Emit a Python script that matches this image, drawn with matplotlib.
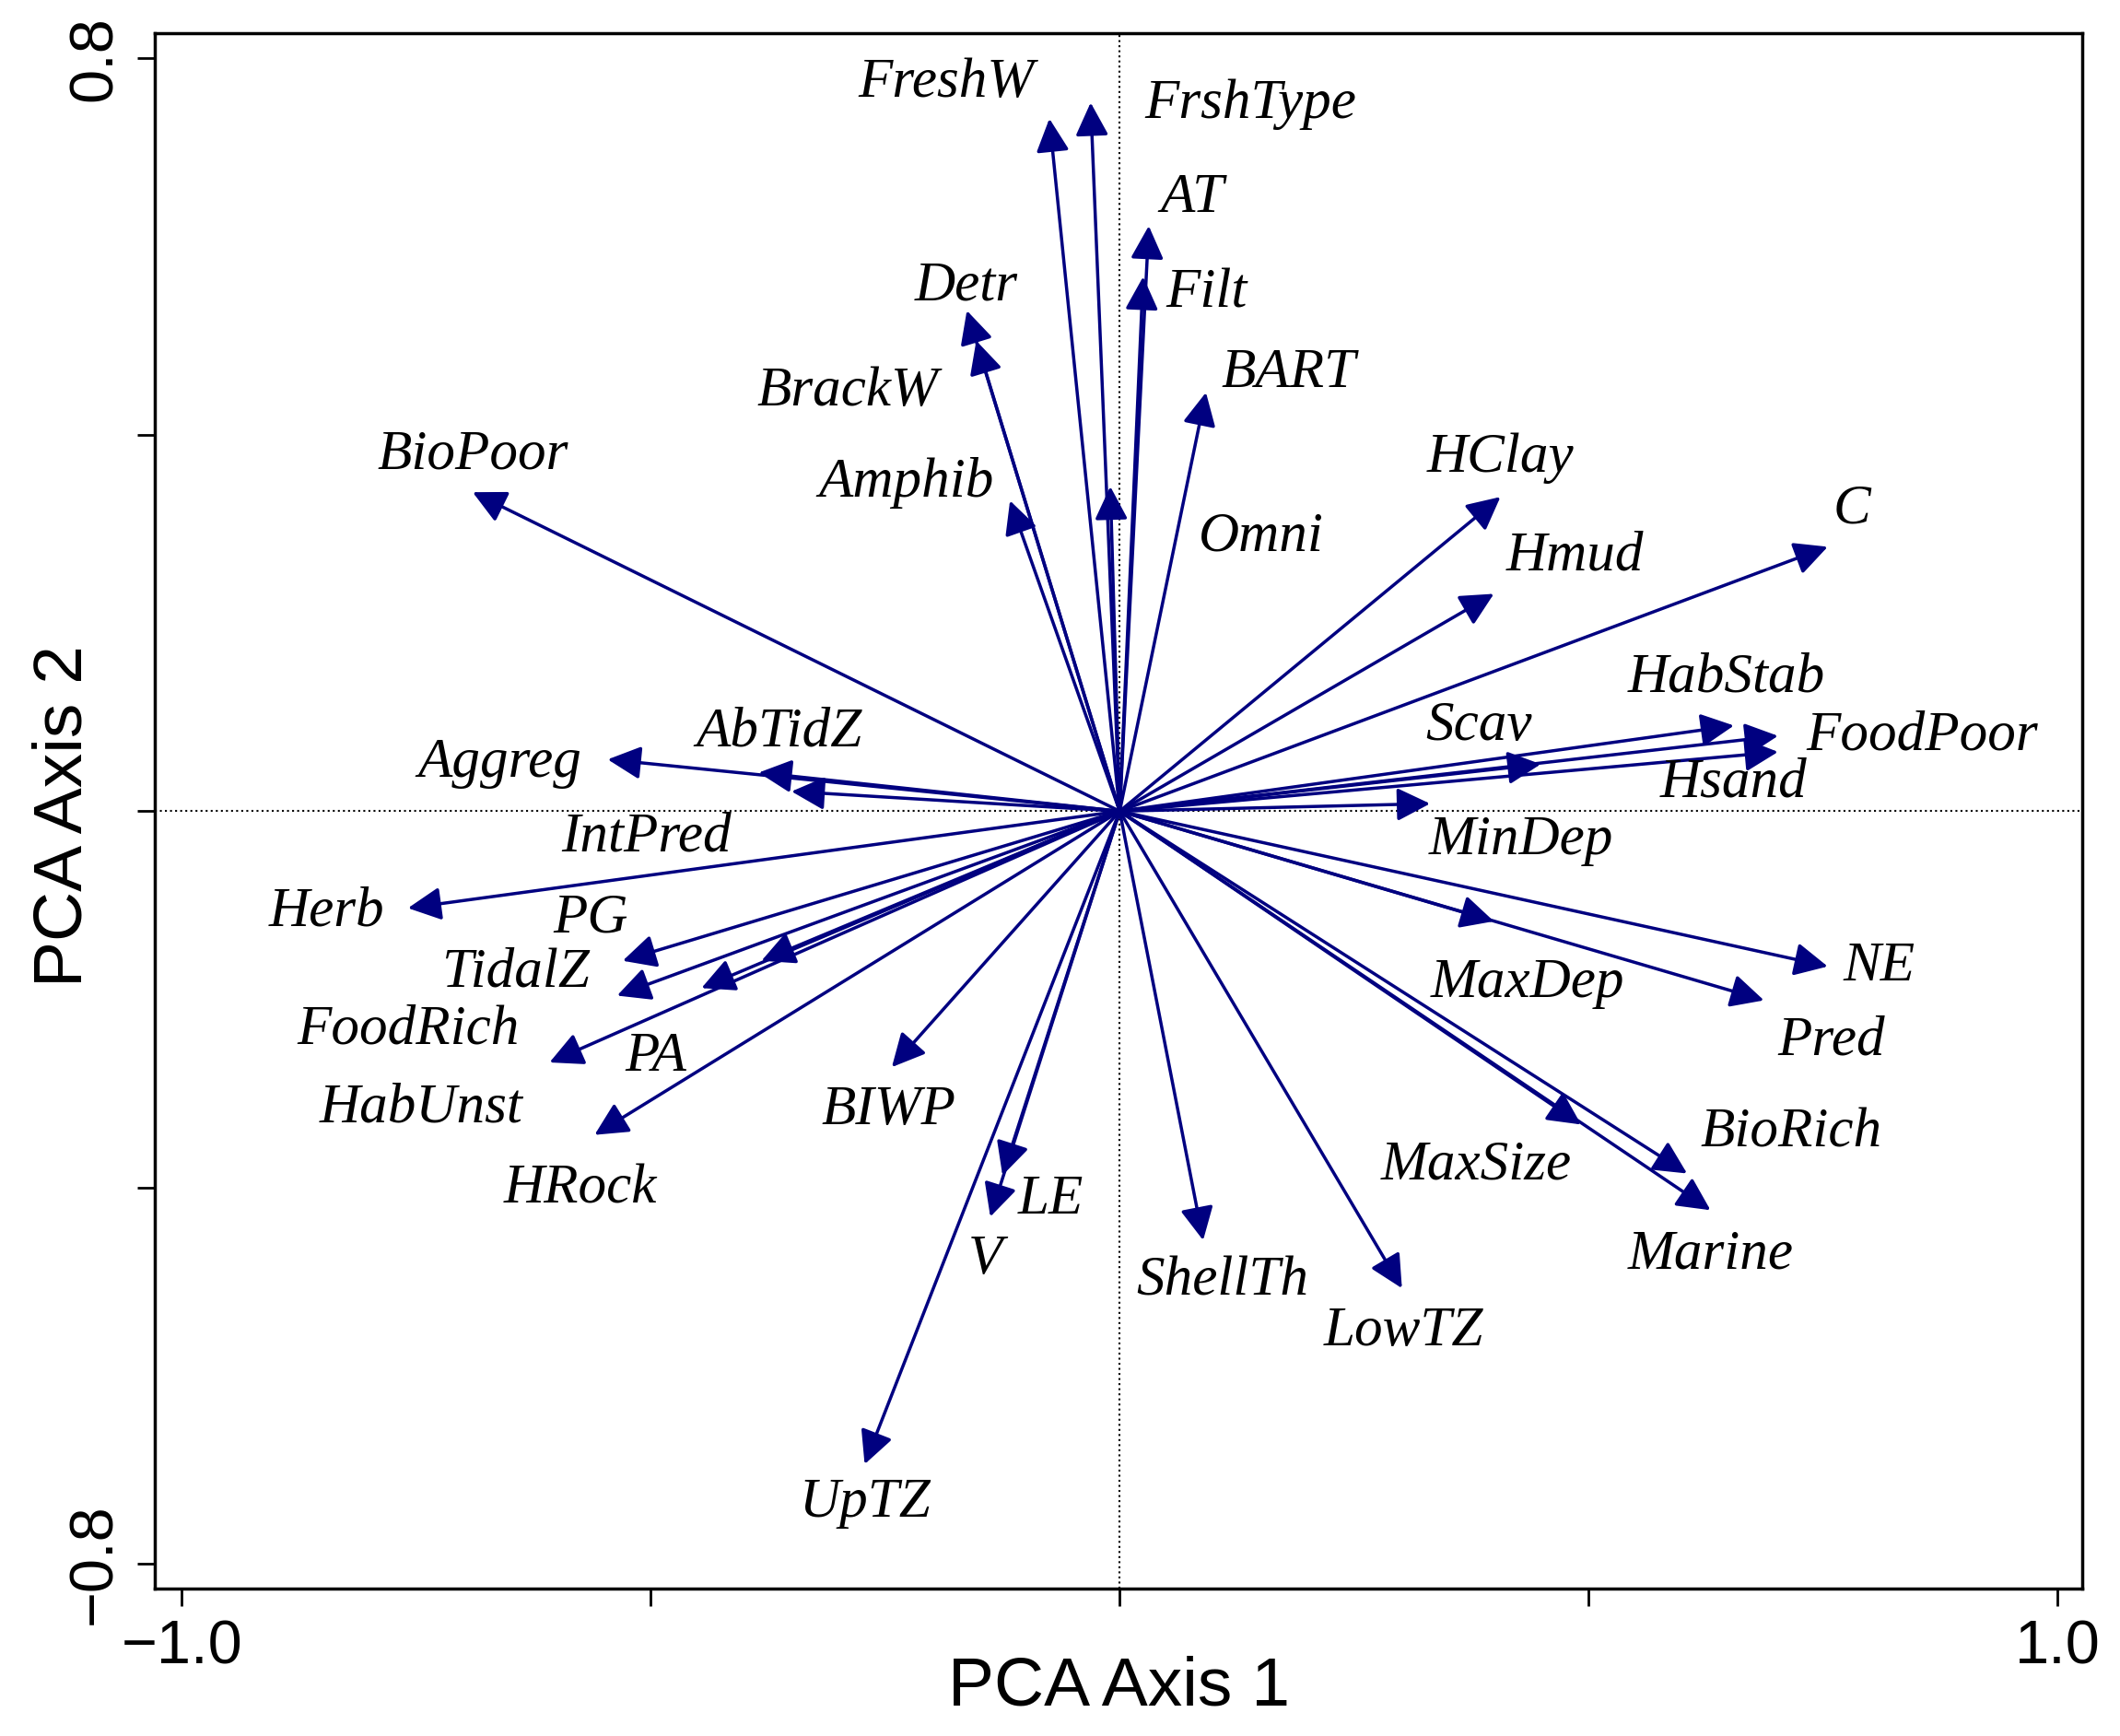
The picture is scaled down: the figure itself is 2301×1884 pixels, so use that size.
import numpy as np
import matplotlib
matplotlib.use("Agg")
import matplotlib.pyplot as plt

# variable names, arrow tips (PC1, PC2) and label positions
names = ["FreshW", "FrshType", "AT", "Filt", "Detr", "BrackW", "BART", "Amphib", "Omni",
         "BioPoor", "HClay", "Hmud", "C", "HabStab", "FoodPoor", "Hsand", "Scav", "MinDep",
         "AbTidZ", "Aggreg", "IntPred", "Herb", "PG", "TidalZ", "FoodRich", "PA", "HabUnst",
         "HRock", "BIWP", "LE", "V", "UpTZ", "ShellTh", "LowTZ", "MaxSize", "BioRich",
         "Marine", "MaxDep", "Pred", "NE"]
pc1 = [-0.075, -0.031, 0.031, 0.025, -0.163, -0.153, 0.092, -0.117, -0.010,
       -0.690, 0.406, 0.399, 0.755, 0.655, 0.702, 0.702, 0.449, 0.331,
       -0.385, -0.546, -0.350, -0.759, -0.530, -0.536, -0.608, -0.382, -0.446,
       -0.560, -0.243, -0.125, -0.138, -0.272, 0.089, 0.301, 0.492, 0.605,
       0.630, 0.399, 0.687, 0.755]
pc2 = [0.736, 0.753, 0.622, 0.568, 0.532, 0.500, 0.445, 0.330, 0.345,
       0.339, 0.334, 0.231, 0.281, 0.091, 0.080, 0.063, 0.050, 0.008,
       0.041, 0.055, 0.021, -0.103, -0.159, -0.196, -0.267, -0.159, -0.188,
       -0.344, -0.272, -0.387, -0.431, -0.694, -0.456, -0.507, -0.333, -0.385,
       -0.424, -0.117, -0.201, -0.165]
lab_x = [-0.185, 0.139, 0.077, 0.093, -0.164, -0.290, 0.180, -0.228, 0.151,
         -0.690, 0.406, 0.485, 0.781, 0.647, 0.856, 0.655, 0.383, 0.428,
         -0.363, -0.661, -0.505, -0.846, -0.564, -0.644, -0.759, -0.495, -0.745,
         -0.575, -0.246, -0.074, -0.143, -0.272, 0.110, 0.303, 0.380, 0.716,
         0.630, 0.435, 0.759, 0.810]
lab_y = [0.774, 0.751, 0.651, 0.550, 0.558, 0.446, 0.465, 0.349, 0.291,
         0.379, 0.375, 0.271, 0.321, 0.142, 0.080, 0.030, 0.090, -0.031,
         0.084, 0.051, -0.028, -0.107, -0.114, -0.172, -0.232, -0.261, -0.316,
         -0.402, -0.318, -0.413, -0.477, -0.735, -0.500, -0.553, -0.376, -0.342,
         -0.471, -0.183, -0.244, -0.165]

plt.rcParams['font.family'] = ['Liberation Sans', 'DejaVu Sans']
fig = plt.figure(figsize=(23.01, 18.84), dpi=100)
ax = fig.add_axes([0.073, 0.085, 0.909, 0.896])
col = "#000080"

ax.axhline(0, color="k", ls=":", lw=1.5)
ax.axvline(0, color="k", ls=":", lw=1.5)

for i in range(len(names)):
    ax.annotate("", xy=(pc1[i], pc2[i]), xytext=(0, 0),
                arrowprops=dict(arrowstyle="-|>", color=col, lw=2.5,
                                mutation_scale=55, shrinkA=0, shrinkB=0))
    ax.text(lab_x[i], lab_y[i], names[i], ha="center", va="center",
            fontsize=44, style="italic", family="Liberation Serif")

ax.set_xlim(-1.029, 1.026)
ax.set_ylim(-0.826, 0.827)
ax.set_xticks([-1.0, -0.5, 0, 0.5, 1.0])
ax.set_xticklabels(["\u22121.0", "", "", "", "1.0"])
ax.set_yticks([-0.8, -0.4, 0, 0.4, 0.8])
ax.set_yticklabels(["\u22120.8", "", "", "", "0.8"], rotation=90, va="center")
ax.tick_params(labelsize=48, length=14, width=2, direction="out", pad=10)
for s in ax.spines.values():
    s.set_linewidth(2.5)
fig.text(0.528, 0.028, "PCA Axis 1", fontsize=54, ha="center", va="center")
fig.text(0.030, 0.53, "PCA Axis 2", fontsize=54, ha="center", va="center", rotation=90)

fig.savefig("out.png", dpi=100)
